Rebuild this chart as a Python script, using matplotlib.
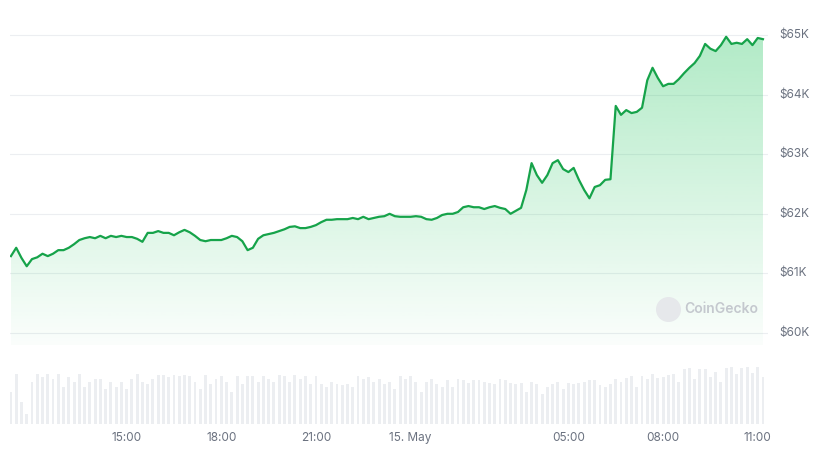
import matplotlib
matplotlib.use("Agg")
import matplotlib.pyplot as plt
import numpy as np
import matplotlib.colors as mc

prices_k = [61.29,61.43,61.26,61.12,61.24,61.27,61.33,61.29,61.33,61.39,61.39,61.43,61.49,61.56,61.59,61.61,61.59,61.63,61.59,61.63,
61.61,61.63,61.61,61.61,61.58,61.53,61.68,61.68,61.71,61.68,61.68,61.64,61.69,61.73,61.69,61.63,61.56,61.54,61.56,61.56,
61.56,61.59,61.63,61.61,61.54,61.39,61.43,61.58,61.64,61.66,61.68,61.71,61.74,61.78,61.79,61.76,61.76,61.78,61.81,61.86,
61.90,61.90,61.91,61.91,61.91,61.93,61.91,61.95,61.91,61.93,61.95,61.96,62.00,61.96,61.95,61.95,61.95,61.96,61.95,61.91,
61.90,61.93,61.98,62.00,62.00,62.03,62.11,62.13,62.11,62.11,62.08,62.11,62.13,62.10,62.08,62.00,62.05,62.10,62.40,62.85,
62.65,62.52,62.65,62.85,62.90,62.75,62.70,62.77,62.57,62.40,62.26,62.45,62.48,62.57,62.58,63.81,63.66,63.74,63.69,63.71,
63.78,64.24,64.45,64.28,64.14,64.18,64.18,64.26,64.36,64.45,64.53,64.65,64.85,64.77,64.73,64.83,64.97,64.85,64.87,64.85,
64.93,64.83,64.95,64.93]
volumes = [0.65,1.0,0.45,0.2,0.85,1.0,0.95,1.0,0.9,1.0,0.75,0.95,0.85,1.0,0.75,0.85,0.9,0.9,0.7,0.85,
0.75,0.85,0.7,0.9,1.0,0.85,0.8,0.9,0.98,0.98,0.95,0.98,0.96,0.98,0.96,0.85,0.7,0.98,0.8,0.9,
0.96,0.85,0.65,0.96,0.8,0.96,0.96,0.85,0.96,0.9,0.85,0.98,0.96,0.85,0.98,0.9,0.96,0.8,0.96,0.8,
0.75,0.85,0.8,0.78,0.8,0.75,0.96,0.9,0.95,0.85,0.9,0.8,0.85,0.7,0.96,0.9,0.96,0.85,0.65,0.85,
0.9,0.8,0.75,0.88,0.75,0.9,0.88,0.82,0.88,0.88,0.85,0.82,0.8,0.9,0.88,0.82,0.8,0.82,0.65,0.85,
0.8,0.6,0.75,0.8,0.85,0.7,0.82,0.8,0.82,0.85,0.88,0.88,0.78,0.75,0.8,0.9,0.85,0.92,0.96,0.75,
0.96,0.9,1.0,0.92,0.95,0.98,1.0,0.85,1.1,1.12,0.9,1.1,1.1,0.95,1.05,0.85,1.12,1.15,1.0,1.12,
1.15,1.02,1.15,0.95]
start_hour = 11 + 20/60
step_hours = 10/60
tick_hours = [15, 18, 21, 24, 29, 32, 35]
tick_labels = ["15:00", "18:00", "21:00", "15. May", "05:00", "08:00", "11:00"]
y_ticks = [60, 61, 62, 63, 64, 65]
y_labels = ["$60K", "$61K", "$62K", "$63K", "$64K", "$65K"]

t = start_hour + step_hours * np.arange(len(prices_k))
p = np.array(prices_k)
W, H = 817, 458
fig = plt.figure(figsize=(W/100, H/100), dpi=100)
plt.rcParams['font.family'] = ['Inter', 'DejaVu Sans']

x0 = 10/W; x1 = 768/W
ax = fig.add_axes([x0, 1-345/H, x1-x0, (345-20)/H])
xmin = start_hour - 0.03
xmax = start_hour + (765-10)/31.6 + 0.1
ax.set_xlim(xmin, xmax)
ylo = 65 - (345-35)/59.6
yhi = 65 + (35-20)/59.6
ax.set_ylim(ylo, yhi)
for s in ax.spines.values():
    s.set_visible(False)
ax.set_xticks([])
ax.set_yticks([])
for yv, lab in zip(y_ticks, y_labels):
    ax.axhline(yv, color="#eceef1", lw=0.8, zorder=0)
    ax.text(1.015, yv, lab, transform=ax.get_yaxis_transform(), va="center", ha="left",
            fontsize=8.5, color="#6b7280")

green = "#16a34a"
poly = ax.fill_between(t, p, ylo, color="none", lw=0)
rgba = np.zeros((256, 1, 4))
rgba[..., :3] = mc.to_rgb("#22c55e")
rgba[..., 3] = np.linspace(0.35, 0.02, 256).reshape(-1, 1)
im = ax.imshow(rgba, extent=[t[0], t[-1], ylo, p.max()], aspect="auto", origin="upper", zorder=1)
im.set_clip_path(poly.get_paths()[0], transform=ax.transData)
ax.plot(t, p, color=green, lw=1.6, zorder=3)

ax.plot([0.868], [0.11], "o", ms=17, color="#e6e8eb", transform=ax.transAxes, zorder=2)
ax.text(0.889, 0.11, "CoinGecko", transform=ax.transAxes, fontsize=10, color="#c4c8ce",
        va="center", ha="left", fontweight="semibold")

axv = fig.add_axes([x0, 1-424/H, x1-x0, (424-362)/H])
axv.set_xlim(xmin, xmax)
axv.bar(t, volumes, width=step_hours*0.55, color="#eceef1", align="center")
axv.set_ylim(0, 1.25)
for s in axv.spines.values():
    s.set_visible(False)
axv.set_yticks([])
axv.set_xticks(tick_hours)
axv.set_xticklabels(tick_labels, fontsize=8.5, color="#6b7280")
axv.tick_params(axis="x", length=0, pad=6)

fig.savefig("out.png", dpi=100)
